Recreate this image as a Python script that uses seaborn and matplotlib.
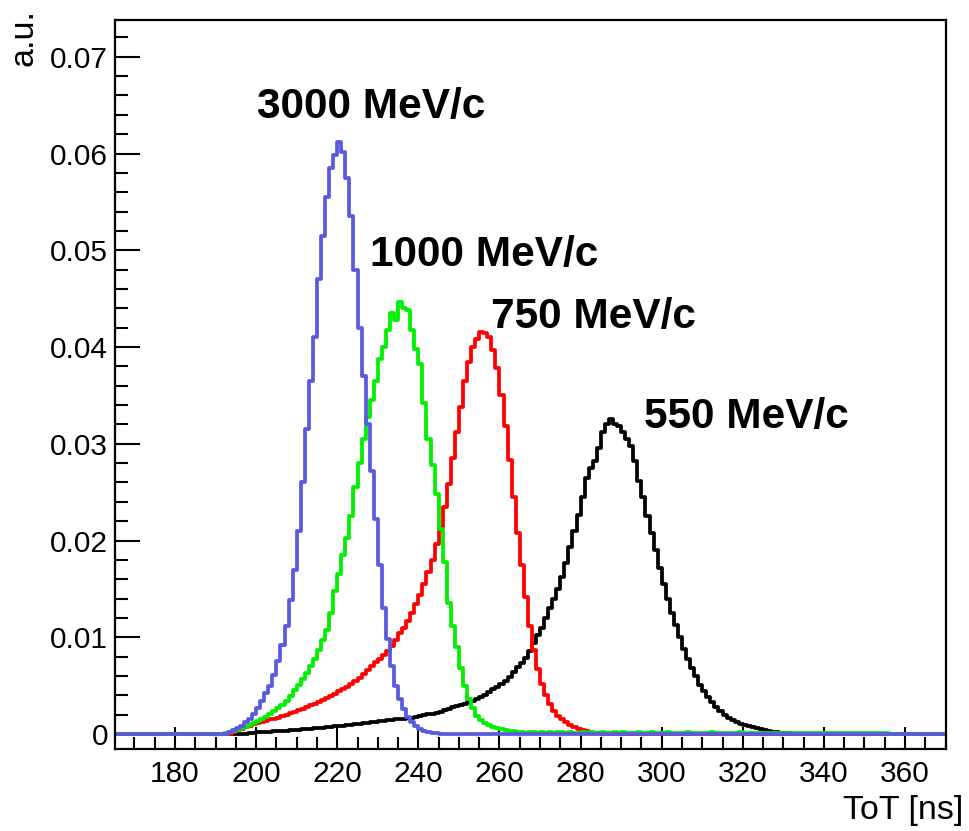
import numpy as np
import pandas as pd
import matplotlib
matplotlib.use("Agg")
import matplotlib.pyplot as plt
import seaborn as sns
from matplotlib.ticker import MultipleLocator, FuncFormatter

sns.set_style("ticks")
plt.rcParams["font.family"] = ["Liberation Sans", "DejaVu Sans"]
plt.rcParams["text.color"] = "black"
plt.rcParams["axes.labelcolor"] = "black"

# ---- data (ToT histograms, 1 ns bins) ----
bin_lo, bin_hi, bin_w = 164, 372, 1

labels = ["550 MeV/c", "750 MeV/c", "1000 MeV/c", "3000 MeV/c"]
colors = ["#000000", "#ff0000", "#00f000", "#5a5ae0"]

# first bin edge of each listed series (values are zero outside the list)
start_550 = 198
vals_550 = [0.0001, 0.0001, 0.0002, 0.0002, 0.0002, 0.0002, 0.0003, 0.0003, 0.0003, 0.0003,
            0.0004, 0.0004, 0.0004, 0.0005, 0.0005, 0.0005, 0.0006, 0.0006, 0.0006, 0.0007,
            0.0007, 0.0008, 0.0008, 0.0008, 0.0009, 0.0009, 0.0010, 0.0010, 0.0011, 0.0011,
            0.0012, 0.0012, 0.0013, 0.0013, 0.0014, 0.0014, 0.0015, 0.0015, 0.0016, 0.0017,
            0.0017, 0.0018, 0.0019, 0.0020, 0.0021, 0.0021, 0.0022, 0.0023, 0.0025, 0.0026,
            0.0028, 0.0029, 0.0030, 0.0031, 0.0033, 0.0034, 0.0036, 0.0038, 0.0040, 0.0043,
            0.0046, 0.0049, 0.0052, 0.0055, 0.0059, 0.0064, 0.0069, 0.0073, 0.0079, 0.0086,
            0.0094, 0.0102, 0.0110, 0.0120, 0.0130, 0.0140, 0.0150, 0.0162, 0.0177, 0.0193,
            0.0210, 0.0226, 0.0245, 0.0265, 0.0275, 0.0282, 0.0296, 0.0312, 0.0320, 0.0326,
            0.0320, 0.0318, 0.0312, 0.0305, 0.0298, 0.0282, 0.0262, 0.0245, 0.0225, 0.0208,
            0.0190, 0.0172, 0.0155, 0.0140, 0.0125, 0.0113, 0.0100, 0.0088, 0.0078, 0.0068,
            0.0060, 0.0051, 0.0044, 0.0038, 0.0033, 0.0028, 0.0024, 0.0020, 0.0017, 0.0014,
            0.0012, 0.0010, 0.0009, 0.0008, 0.0007, 0.0006, 0.0005, 0.0004, 0.0003, 0.0002,
            0.0002, 0.0001, 0.0001, 0.0001]

start_750 = 194
vals_750 = [0.0002, 0.0004, 0.0005, 0.0007, 0.0008, 0.0010, 0.0011, 0.0012, 0.0013, 0.0015,
            0.0016, 0.0017, 0.0019, 0.0020, 0.0022, 0.0023, 0.0025, 0.0026, 0.0028, 0.0030,
            0.0031, 0.0033, 0.0035, 0.0037, 0.0039, 0.0041, 0.0044, 0.0046, 0.0049, 0.0052,
            0.0055, 0.0058, 0.0062, 0.0066, 0.0070, 0.0074, 0.0078, 0.0082, 0.0086, 0.0091,
            0.0097, 0.0104, 0.0110, 0.0117, 0.0125, 0.0134, 0.0144, 0.0155, 0.0167, 0.0180,
            0.0196, 0.0213, 0.0235, 0.0258, 0.0285, 0.0312, 0.0338, 0.0365, 0.0385, 0.0400,
            0.0408, 0.0415, 0.0414, 0.0410, 0.0397, 0.0378, 0.0350, 0.0318, 0.0283, 0.0245,
            0.0208, 0.0175, 0.0142, 0.0112, 0.0087, 0.0067, 0.0052, 0.0040, 0.0031, 0.0024,
            0.0019, 0.0015, 0.0012, 0.0009, 0.0007, 0.0005, 0.0004, 0.0003, 0.0002, 0.0001,
            0.0001]

start_1000 = 192
vals_1000 = [0.0001, 0.0002, 0.0003, 0.0004, 0.0006, 0.0007, 0.0009, 0.0011, 0.0013, 0.0015,
             0.0018, 0.0021, 0.0024, 0.0027, 0.0030, 0.0034, 0.0039, 0.0045, 0.0051, 0.0057,
             0.0063, 0.0070, 0.0078, 0.0087, 0.0097, 0.0108, 0.0125, 0.0148, 0.0165, 0.0185,
             0.0203, 0.0225, 0.0255, 0.0280, 0.0305, 0.0328, 0.0345, 0.0365, 0.0388, 0.0400,
             0.0418, 0.0435, 0.0428, 0.0447, 0.0440, 0.0438, 0.0418, 0.0398, 0.0382, 0.0342,
             0.0305, 0.0278, 0.0248, 0.0212, 0.0178, 0.0135, 0.0112, 0.0090, 0.0068, 0.0050,
             0.0036, 0.0027, 0.0019, 0.0014, 0.0011, 0.0009, 0.0007, 0.0006, 0.0005, 0.0004,
             0.0003, 0.0003, 0.0002, 0.0002, 0.0001, 0.0002, 0.0002, 0.0001, 0.0002, 0.0001,
             0.0002, 0.0001, 0.0002, 0.0002, 0.0001, 0.0002, 0.0001, 0.0001, 0.0002, 0.0001,
             0.0002, 0.0001, 0.0001, 0.0002, 0.0001, 0.0001, 0.0002, 0.0001, 0.0002, 0.0001,
             0.0001, 0.0001, 0.0002, 0.0001, 0.0001, 0.0002, 0.0001, 0.0001, 0.0001, 0.0002,
             0.0001, 0.0001, 0.0001, 0.0001, 0.0002, 0.0001, 0.0001, 0.0001, 0.0001, 0.0001,
             0.0002, 0.0001, 0.0001, 0.0001, 0.0001, 0.0001, 0.0001, 0.0002, 0.0001, 0.0001,
             0.0001, 0.0001, 0.0001, 0.0001, 0.0001, 0.0001, 0.0001, 0.0001, 0.0001, 0.0001,
             0.0001, 0.0001, 0.0001, 0.0001, 0.0001, 0.0001, 0.0001, 0.0001, 0.0001, 0.0001,
             0.0001, 0.0001, 0.0001, 0.0001, 0.0001, 0.0001, 0.0001, 0.0001, 0.0001, 0.0001,
             0.0001, 0.0001, 0.0001, 0.0001]

start_3000 = 193
vals_3000 = [0.0002, 0.0004, 0.0006, 0.0008, 0.0012, 0.0016, 0.0021, 0.0027, 0.0034, 0.0042,
             0.0050, 0.0061, 0.0075, 0.0092, 0.0112, 0.0138, 0.0170, 0.0210, 0.0260, 0.0315,
             0.0365, 0.0410, 0.0470, 0.0515, 0.0555, 0.0585, 0.0598, 0.0612, 0.0602, 0.0575,
             0.0535, 0.0480, 0.0420, 0.0370, 0.0320, 0.0272, 0.0222, 0.0175, 0.0130, 0.0098,
             0.0070, 0.0050, 0.0036, 0.0026, 0.0018, 0.0012, 0.0008, 0.0005, 0.0003, 0.0002,
             0.0001, 0.0001]

starts = [start_550, start_750, start_1000, start_3000]
values = [vals_550, vals_750, vals_1000, vals_3000]

# label anchors (data coords, baseline-left)
label_x = [295.6, 257.8, 228.1, 200.2]
label_y = [0.03165, 0.04196, 0.04835, 0.0637]

x_ticks_major, x_ticks_minor = 20, 5
y_ticks_major, y_ticks_minor = 0.01, 0.002

# ---- figure ----
W, H, DPI = 970, 831, 100
fig = plt.figure(figsize=(W / DPI, H / DPI), dpi=DPI)
ax = fig.add_axes([115 / W, 1 - 749 / H, (946 - 115) / W, (749 - 20) / H])

edges = np.arange(bin_lo, bin_hi + 1, bin_w)
centers = edges[:-1] + bin_w / 2
edge_list = [float(e) for e in edges]

for s, v, c in zip(starts, values, colors):
    w = np.zeros(len(centers))
    i = (s - bin_lo) // bin_w
    w[i:i + len(v)] = v
    df = pd.DataFrame({"tot": centers, "w": w})
    sns.histplot(data=df, x="tot", weights="w", bins=edge_list, element="step", fill=False,
                 color=c, linewidth=2.7, ax=ax)

for lab, lx, ly in zip(labels, label_x, label_y):
    ax.text(lx, ly, lab, fontsize=30.5, fontweight="bold", ha="left", va="baseline",
            color="black")

ax.set_xlim(165.2, 370.1)
ax.set_ylim(-0.00155, 0.0738)
ax.set_xlabel("")
ax.set_ylabel("")

ax.xaxis.set_major_locator(MultipleLocator(x_ticks_major))
ax.xaxis.set_minor_locator(MultipleLocator(x_ticks_minor))
ax.yaxis.set_major_locator(MultipleLocator(y_ticks_major))
ax.yaxis.set_minor_locator(MultipleLocator(y_ticks_minor))
ax.yaxis.set_major_formatter(FuncFormatter(lambda v, p: "0" if abs(v) < 1e-9 else f"{v:.2f}"))

ax.tick_params(which="both", direction="in", top=False, right=False, width=1.5,
               color="black", labelsize=21.5, labelcolor="black")
ax.tick_params(axis="y", which="major", length=18, pad=5)
ax.tick_params(axis="y", which="minor", length=9.5)
ax.tick_params(axis="x", which="major", length=16, pad=8)
ax.tick_params(axis="x", which="minor", length=8.5)

for sp in ax.spines.values():
    sp.set_visible(True)
    sp.set_linewidth(1.6)
    sp.set_color("black")

fig.text(24 / W, 1 - 9 / H, "a.u.", rotation=90, ha="center", va="top", fontsize=24.5,
         color="black")
fig.text(963 / W, 1 - 811 / H, "ToT [ns]", ha="right", va="center", fontsize=24.5,
         color="black")

fig.savefig("out.png", dpi=DPI)
